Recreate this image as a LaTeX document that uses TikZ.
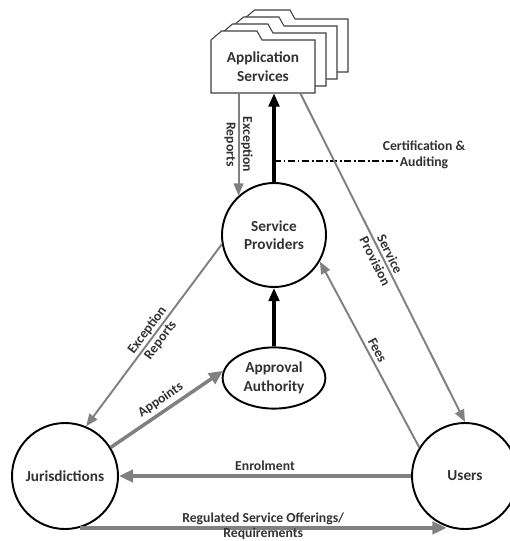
\documentclass[tikz,border=0pt]{standalone}
\usepackage{fontspec}
\setmainfont{Carlito}
\usetikzlibrary{arrows.meta, positioning, shapes.geometric}
\definecolor{flowgray}{RGB}{128,128,128}
\definecolor{inkgray}{RGB}{50,50,50}
\tikzstyle{party} = [circle, draw=black, line width=1.1pt, minimum size=2.08cm, align=center, text=inkgray, font=\fontsize{8.7}{10.5}\selectfont\bfseries]
\tikzstyle{authority} = [ellipse, draw=black, line width=1.1pt, minimum width=1.92cm, minimum height=0.96cm, align=center, text=inkgray, font=\fontsize{8.7}{10.5}\selectfont\bfseries]
\tikzstyle{sheet} = [draw=black!75, line width=0.6pt, fill=white]
\tikzstyle{lab} = [align=center, text=inkgray, font=\fontsize{7.8}{9.4}\selectfont\bfseries, inner sep=2pt]
\tikzstyle{flow} = [draw=flowgray, line width=1.1pt, -{Triangle[length=7pt, width=5.5pt]}]
\tikzstyle{bigflow} = [flow, line width=2pt, -{Triangle[length=8pt, width=7pt]}]
\tikzstyle{control} = [draw=black, line width=1.8pt, -{Triangle[length=7.5pt, width=6pt]}]

\begin{document}
\begin{tikzpicture}
    \useasboundingbox (0, 0) rectangle (10.2, -10.82);

    % stack of application sheets
    \foreach \k in {3, 2, 1, 0} {
        \begin{scope}[shift={(0.22*\k, 0.14*\k)}]
            \draw [sheet] (4.22, -1.86) -- (4.22, -0.80) -- (4.43, -0.62) -- (5.14, -0.62)
                -- (5.24, -0.80) -- (6.30, -0.80) -- (6.30, -1.86) -- cycle;
        \end{scope}
    }
    \node (app) [minimum width=2.08cm, minimum height=1.06cm, align=center, text=inkgray,
        font=\fontsize{8.7}{10.5}\selectfont\bfseries] at (5.26, -1.33) {Application\\Services};

    \node (sp) [party] at (5.48, -4.70) {Service\\Providers};
    \node (aa) [authority] at (5.48, -7.56) {Approval\\Authority};
    \node (jur) [party, minimum size=2.12cm] at (1.30, -9.52) {Jurisdictions};
    \node (users) [party, minimum size=2.12cm] at (9.30, -9.52) {Users};

    \node (cert) [lab] at (8.48, -3.10) {Certification \&\\Auditing};
    \coordinate (certa) at (5.48, -3.22);
    \coordinate (certb) at (7.96, -3.22);

    \draw [control] (sp.north) -- (sp.north |- app.south);
    \draw [control] (aa.north) -- (sp.south);
    \draw [dash pattern=on 4pt off 1.5pt on 1pt off 1.5pt, line width=0.7pt] (certa) -- (certb);

    \draw [flow] (sp.132 |- app.south) -- node[lab, rotate=-90] {Exception\\Reports} (sp.132);
    \draw [flow] ([xshift=-0.3cm]app.south east) -- node[lab, sloped] {Service\\Provision} (users.north);
    \draw [flow] (users.148) -- node[lab, sloped, above] {Fees} (sp.330);
    \draw [flow] (sp.190) -- node[lab, sloped] {Exception\\Reports} (jur.67);
    \draw [bigflow] (jur.32) -- node[lab, sloped, above] {Appoints} (aa.172);
    \draw [bigflow] (users.west) -- node[lab, above] {Enrolment} (jur.east);
    \draw [bigflow] (jur.286) -- node[lab, font=\fontsize{7.8}{8.8}\selectfont\bfseries, yshift=1pt]
        {Regulated Service Offerings/\\Requirements} (jur.286 -| users.250);

\end{tikzpicture}
\end{document}
